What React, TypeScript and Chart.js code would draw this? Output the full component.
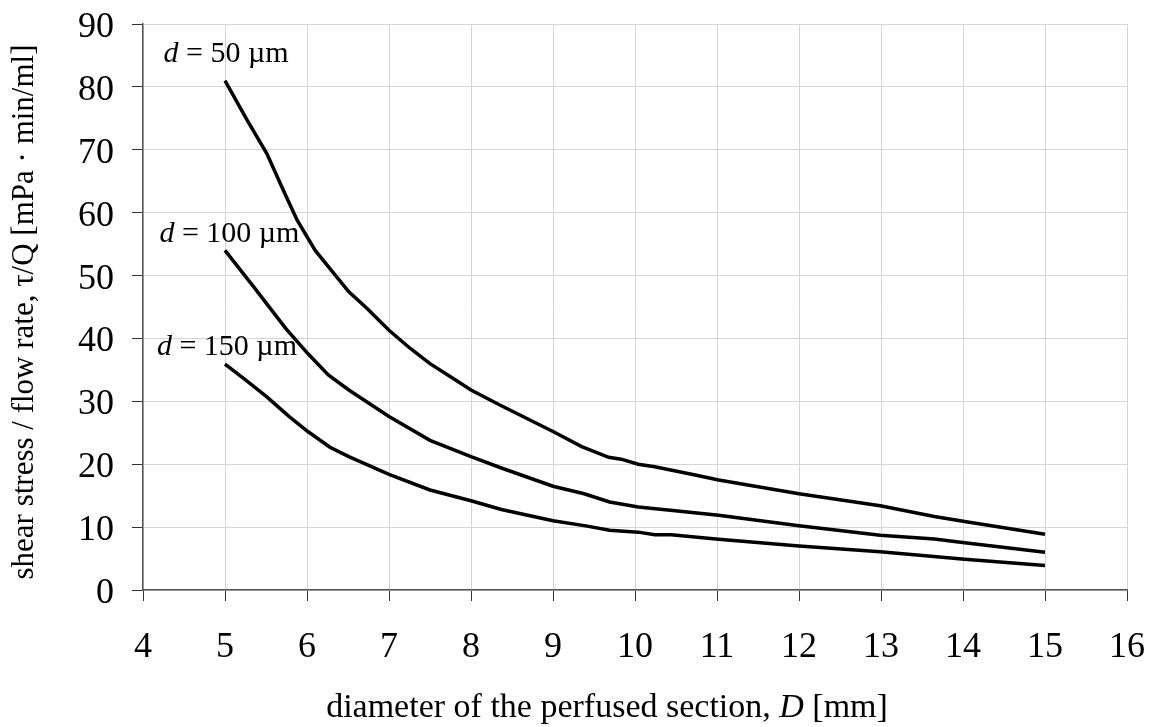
import React, { useEffect, useRef } from "react";
import { Chart, registerables } from "chart.js";

Chart.register(...registerables);

// ---- data ----
const seriesNames = ["50", "100", "150"];

const d50X = [5.0, 5.27, 5.51, 5.71, 5.88, 6.1, 6.28, 6.51, 6.73, 7.0, 7.26, 7.5, 7.75, 8.0, 8.37, 9.0, 9.35, 9.68, 9.83, 10.04, 10.24, 10.69, 11.02, 12.0, 12.99, 13.65, 14.02, 15.0];
const d50Y = [81.0, 74.7, 69.4, 63.6, 58.8, 54.0, 51.1, 47.4, 44.8, 41.3, 38.4, 36.0, 33.9, 31.8, 29.3, 25.2, 22.8, 21.1, 20.8, 20.0, 19.6, 18.4, 17.5, 15.3, 13.4, 11.7, 10.9, 8.85];

const d100X = [5.0, 5.35, 5.74, 6.01, 6.26, 6.51, 7.0, 7.5, 8.0, 8.37, 9.0, 9.38, 9.69, 10.04, 10.49, 11.02, 12.0, 12.99, 13.65, 14.02, 15.0];
const d100Y = [54.0, 48.2, 41.6, 37.6, 34.2, 31.8, 27.6, 23.8, 21.2, 19.4, 16.5, 15.3, 14.0, 13.2, 12.6, 11.9, 10.2, 8.7, 8.1, 7.5, 6.0];

const d150X = [5.0, 5.25, 5.51, 5.78, 6.01, 6.28, 6.51, 7.0, 7.5, 8.0, 8.37, 9.0, 9.4, 9.69, 10.04, 10.24, 10.44, 11.02, 12.0, 12.99, 14.02, 15.0];
const d150Y = [35.9, 33.4, 30.7, 27.6, 25.2, 22.7, 21.2, 18.4, 15.9, 14.2, 12.8, 11.0, 10.2, 9.5, 9.2, 8.8, 8.8, 8.06, 7.0, 6.1, 4.9, 3.9];

// label anchors (data units) for the curve annotations
const labelX = [4.25, 4.2, 4.17];
const labelY = [83.9, 55.3, 37.4];

const xTicks = [4, 5, 6, 7, 8, 9, 10, 11, 12, 13, 14, 15, 16];
const yTicks = [0, 10, 20, 30, 40, 50, 60, 70, 80, 90];

const xTitleParts = [
  { text: "diameter of the perfused section, ", italic: false },
  { text: "D", italic: true },
  { text: " [mm]", italic: false },
];
const yTitle = "shear stress / flow rate, \u03c4/Q [mPa \u00b7 min/ml]";

const FONT = '"Liberation Serif", "Times New Roman", serif';

const toPts = (xs: number[], ys: number[]) => xs.map((x, i) => ({ x, y: ys[i] }));

const annotPlugin = {
  id: "annot",
  afterDraw(chart: any) {
    const { ctx, scales, chartArea } = chart;
    const xs = scales.x;
    const ys = scales.y;
    ctx.save();
    ctx.fillStyle = "#000";
    ctx.textBaseline = "alphabetic";
    // tick labels
    ctx.font = `36px ${FONT}`;
    ctx.textAlign = "center";
    xTicks.forEach((v) => {
      ctx.fillText(String(v), xs.getPixelForValue(v), 657);
    });
    ctx.textAlign = "right";
    yTicks.forEach((v) => {
      ctx.fillText(String(v), 114, ys.getPixelForValue(v) + 13);
    });
    // curve labels
    seriesNames.forEach((name, i) => {
      let px = xs.getPixelForValue(labelX[i]);
      const py = ys.getPixelForValue(labelY[i]);
      ctx.textAlign = "left";
      ctx.font = `italic 30px ${FONT}`;
      ctx.fillText("d", px, py);
      px += ctx.measureText("d").width;
      ctx.font = `30px ${FONT}`;
      ctx.fillText(` = ${name} \u00b5m`, px, py);
    });
    // x title
    let total = 0;
    xTitleParts.forEach((p) => {
      ctx.font = `${p.italic ? "italic " : ""}34px ${FONT}`;
      total += ctx.measureText(p.text).width;
    });
    let sx = 607 - total / 2;
    xTitleParts.forEach((p) => {
      ctx.font = `${p.italic ? "italic " : ""}34px ${FONT}`;
      ctx.textAlign = "left";
      ctx.fillText(p.text, sx, 717);
      sx += ctx.measureText(p.text).width;
    });
    // y title
    ctx.translate(25, 312);
    ctx.rotate(-Math.PI / 2);
    ctx.font = `31px ${FONT}`;
    ctx.textAlign = "center";
    ctx.textBaseline = "middle";
    ctx.fillText(yTitle, 0, 0);
    ctx.restore();
  },
};

export default function App() {
  const ref = useRef<HTMLCanvasElement>(null);
  useEffect(() => {
    document.body.style.margin = "0";
    const line = (data: any) => ({
      data,
      borderColor: "#000",
      borderWidth: 3.5,
      pointRadius: 0,
      tension: 0,
      fill: false,
    });
    const chart = new Chart(ref.current!, {
      type: "line",
      data: {
        datasets: [
          line(toPts(d50X, d50Y)),
          line(toPts(d100X, d100Y)),
          line(toPts(d150X, d150Y)),
        ],
      },
      plugins: [annotPlugin],
      options: {
        animation: false,
        responsive: false,
        layout: { padding: { left: 0, top: 24, right: 26, bottom: 0 } },
        plugins: { legend: { display: false }, tooltip: { enabled: false } },
        scales: {
          x: {
            type: "linear",
            min: 4,
            max: 16,
            afterFit: (s: any) => {
              s.height = 137;
            },
            afterBuildTicks: (s: any) => {
              s.ticks = xTicks.map((v) => ({ value: v }));
            },
            grid: { color: "#d4d4d4", lineWidth: 1, tickLength: 11, tickColor: "#333", drawTicks: true },
            border: { color: "#555", width: 1.5 },
            ticks: { display: false },
          },
          y: {
            type: "linear",
            min: 0,
            max: 90,
            afterFit: (s: any) => {
              s.width = 143;
            },
            afterBuildTicks: (s: any) => {
              s.ticks = yTicks.map((v) => ({ value: v }));
            },
            grid: { color: "#d4d4d4", lineWidth: 1, tickLength: 11, tickColor: "#333", drawTicks: true },
            border: { color: "#555", width: 1.5 },
            ticks: { display: false },
          },
        },
      },
    });
    return () => chart.destroy();
  }, []);
  return (
    <div style={{ width: 1153, height: 727 }}>
      <canvas ref={ref} width={1153} height={727} style={{ display: "block" }} />
    </div>
  );
}
